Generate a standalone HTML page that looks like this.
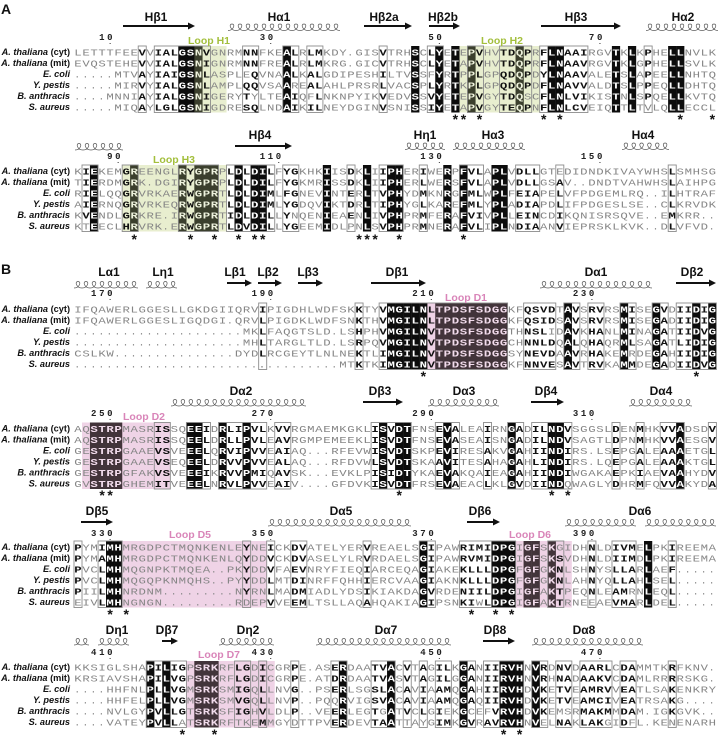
<!DOCTYPE html>
<html lang="en">
<head>
<meta charset="utf-8">
<title>Sequence alignment</title>
<style>
html,body{margin:0;padding:0;background:#fff}
svg{display:block}
.t{font:bold 12px "Liberation Sans",sans-serif;fill:#111;text-anchor:middle}
.lg{font:bold 10.5px "Liberation Sans",sans-serif;fill:#a3bf3c;text-anchor:middle}
.lp{font:bold 10.5px "Liberation Sans",sans-serif;fill:#d985b9;text-anchor:middle}
.p{font:bold 14px "Liberation Sans",sans-serif;fill:#111}
.sp{font:bold 9.2px "Liberation Sans",sans-serif;fill:#111;text-anchor:end}
.r{font-family:"Liberation Mono",monospace;font-size:9.6px}
.n{font:bold 9px "Liberation Mono",monospace;fill:#222}
.s{font:bold 14px "Liberation Sans",sans-serif;fill:#111;text-anchor:middle}
</style>
</head>
<body>
<svg id="fig" xmlns="http://www.w3.org/2000/svg" width="727" height="735" viewBox="0 0 727 735">
<rect width="727" height="735" fill="#fff"/>
<g id="blocks"></g>
<g id="deco"></g>
<text class="p" x="1" y="14">A</text>
<text class="p" x="1" y="274">B</text>

<text class="t" x="156" y="21">Hβ1</text>
<text class="t" x="279" y="21">Hα1</text>
<text class="t" x="384" y="21">Hβ2a</text>
<text class="t" x="443" y="21">Hβ2b</text>
<text class="t" x="576" y="21">Hβ3</text>
<text class="t" x="683" y="21">Hα2</text>
<text class="lg" x="209" y="44">Loop H1</text>
<text class="lg" x="502" y="44">Loop H2</text>

<text class="t" x="260" y="139">Hβ4</text>
<text class="t" x="425" y="139">Hη1</text>
<text class="t" x="493" y="139">Hα3</text>
<text class="t" x="643" y="139">Hα4</text>
<text class="lg" x="174" y="163">Loop H3</text>

<text class="t" x="109" y="276">Lα1</text>
<text class="t" x="163" y="276">Lη1</text>
<text class="t" x="235" y="276">Lβ1</text>
<text class="t" x="268" y="276">Lβ2</text>
<text class="t" x="308" y="276">Lβ3</text>
<text class="t" x="397" y="276">Dβ1</text>
<text class="t" x="596" y="276">Dα1</text>
<text class="t" x="692" y="276">Dβ2</text>
<text class="lp" x="466" y="301">Loop D1</text>

<text class="t" x="241" y="395">Dα2</text>
<text class="t" x="380" y="395">Dβ3</text>
<text class="t" x="464" y="395">Dα3</text>
<text class="t" x="546" y="395">Dβ4</text>
<text class="t" x="661" y="395">Dα4</text>
<text class="lp" x="144" y="420">Loop D2</text>

<text class="t" x="97" y="515">Dβ5</text>
<text class="t" x="341" y="515">Dα5</text>
<text class="t" x="480" y="515">Dβ6</text>
<text class="t" x="640" y="515">Dα6</text>
<text class="lp" x="190" y="538">Loop D5</text>
<text class="lp" x="530" y="538">Loop D6</text>

<text class="t" x="117" y="634">Dη1</text>
<text class="t" x="167" y="634">Dβ7</text>
<text class="t" x="248" y="634">Dη2</text>
<text class="t" x="386" y="634">Dα7</text>
<text class="t" x="495" y="634">Dβ8</text>
<text class="t" x="584" y="634">Dα8</text>
<text class="lp" x="219" y="658">Loop D7</text>
</svg>
<script>
// Species row labels
const species = [["A. thaliana"," (cyt)"],["A. thaliana"," (mit)"],["E. coli",""],["Y. pestis",""],["B. anthracis",""],["S. aureus",""]];

// Alignment rows. Lower-case letters are non-conserved residues inside a framed column.
const rowsA1 = [
"LETTTFEEVVIALGSNVGNRMNNFKEALRLMKDY.GISVTRHSCLYETEPVHVTDQPRFLNAAIRGVTKLKPHELLNVLK",
"EVQSTEHEVVIALGSNIGNRMNNFREALRLMKRG.GICVTRHSCLYETAPVHVTDQPRFLNAAVRGVTKLGPHELLSVLK",
".....MTVAYIAIGSNLASPLeQVNAALKALGDIPESHILTVSSfYRTPPLGPQDQPDYLNAAVALETSLAPEELLNHTQ",
".....MIRVYIALGSNLAMPLQQVSAArEALAHLPRSRLVACSPLYRTKPLGPQDQPDFLNAVVALDTSLPPEQLLDHTQ",
"....MNNIAYIALGSNIGERYTyLTEAIQfLNKNPYIKVEDVSSVYETEPVGYTDQsCFLNLVIKISTNLSPQELLKVTQ",
".....MIQAYLGLGSNIGDRESQLNDAIKILNEYDGINVSNISSIYETAPVGYTEQPNFLNLCVEIQTTLTvLQLLECCL"];
const rowsA2 = [
"KIEKEMGREENGLRYGPRPLDLDILFYGKHKIISDKLIIPHERIWERPFVLAPLVDLLGTeDIDNDKIVAYWHSLSMHSG",
"TIERDMGRK.DGIRYGPRPLDLDILFYGKMRISSDKLIIPHERLWERSFVLAPLVDLLGSAV..DNDTVAHWHSLAIHPG",
"RIELQQGRVRKAERWGPRTLDLDIMLFGNEVINTERLTVPHYDMKNRGFMLWPLFEIAPELVFPDGEMLRQ..ILHTRAF",
"AIERNQGRVRKEQRWGPRTLDLDIMLYGDQVIKTDRLTIPHYGLKAREFMLYPLADIAPDLIFPDGESLSE..CLKRVDK",
"KVENDLGRKRE.IRWGPRTIDLDILLYnQENIEAENLIVPHPRMFERAFVIVPLLEINCDIKQNISRSQVE..EMKRR..",
"KtEECLHRVRK.ERWGPRTLDVDILLYGEEMIDLpNLSVPHPRMNERAFVLIPLNDIAANVIEPRSKLKVK..DLVFVD."];
const rowsB1 = [
"IFQAWERLGGESLLGKDGIIQRVIPIGDHLWDFSKKTYVMGILNLTPDSFSDGGKFQSVDTAVSRVRSMISEGVDIIDIG",
"IFQAWERLGGESLIGQDGI.QRVLPIGDKLWDFSNKTHVMGILNLTPDSFSDGGKFQSIDSAVSRVRSMISEGADIIDIG",
".....................MKLFAQGTSLD.LSHPHVMGILNVTPDSFSDGGTHNSLiDAVKHANLMINAGATIIDVG",
".....................MHLTARGLTLD.LSRPQVMGILNVTPDSFSDGGCHNNLDQALQHAQRMLSAGATLIDIG",
"CSLKW...............DYDLRCGEYTLNLNEKTLIMGILNVTPDSFSDGGSYNEVDAAVRHAKEMrDEGAHIIDIG",
".................................MTKTKIMGILNVTPDSFSDGGKFNNVESAVTRVKAMMDEGADIIDVG"];
const rowsB2 = [
"AQSTRPMASRISSQEEIDRLIPVLKVVRGMAEMKGKLISVDTFNSEVALEAIRNGADILNDVSGGSLDENMHKVVADSDV",
"AQSTRPMASRISSQEELDRLLPVLEAVRGMPEMEEKLISVDTFNSEVASEAISNGADILNDVSAGTLDPNMHKVVAESGV",
"GESTRPGAAEVSVEEELQRVIPVVEAIAQ...RFEVWISVDTSKPEVIRESAKVGAHIINDIRS.LSEPGALEAAAETGL",
"GESTRPGAAEVSEQEELDRVVPVVEALAQ...RFDVWLSVDTSKAAVITESAHAGAHLINDIRS.LQEPGALEAAAKTGL",
"GESTRPGFAKVSVEEEIKRVVPMIQAVSK...EVKLPISIDTYKAEVAKQAIEAGAHIINDIWGAKAEPKIAEVAAHYDV",
"GVSTRPGHEMITVEEELNRVLPVVEAIV....GFDVKISVDTFRSEVAEACLKLGVDIINDqWAGLYDHRMFQVVAKYDA"];
const rowsB3 = [
"PYMIMHMRGDPCTMQNKENLEYNEICKDVATELYERVREAELSGIPAWRIMIDPGIGFSKgIDHNLDIVMELPKIREEMA",
"PYMAMHMRGDPCTMQNKENLQYDDVCKDVASELYLRVRDAELSGIPAWRVMIDPGIGFSKSVDHNLDIIMDLPKIREEMA",
"PVCLMHMQGNPKTMQEA..PKYDDVFAEVNRYFIEQIARCEQAGIAKEKLLLDPGFGFGKNLSHNYSLLARLAEF.....",
"PVCLMHMQGQPKNMQHS..PYYDDLMTDINRFFQHHIERCVAAGIAKNKLLLDPGFGFGKNLAHNYQLLAHLSEL.....",
"PIILMHNRDNM.........NYRNLMADMIADLYDSIKIAKDAGVRDENIILDPGIGFAKTPEQNLEAMrNLEQL.....",
"eIVLMHNGNGN.........RdEPVVEEMLTSLLAQAHQAKIAGIPSNKIwLDPGIGFAKTRNEeAEVMARLDEL....."];
const rowsB4 = [
"KKSIGLSHAPILIGPSRKRFLGDICGRPE.ASERDAATVACVTAGILKGANIIRVHNVRDNVDAARLCDAMMTKRFKNV.",
"KRSIAVSHAPILVGPSRKRFLGDICGRPE.ATDRDAATVASVTAGILGGANIIRVHNVRHNADAAKVCDAMLRRRRSKG.",
"....HHFNLPLLVGMSRKSMIGQLLNVG..PSERLSGSLACAVIAAMQGAHIIRVHDVKETVEAMRVVEATLSAKENKRY",
"....HHFELPLLVGMSRKSMVGQLLNVP..PQqRVIGSVACAVIAAMQGAQIIRVHDVKETVEAMCIVEATRSAKG....",
"....NVLGYPVLLGTSRKSFIGHVLDLP..VEERLEGTgATVCLGIeKGcEfVRVHDVKEmsRMAKMMDAM.IGKGVK..",
"....VATEYPVLLaTSRKRFtkEMMGYdTTPVERDEVTAATtAyGIMKGVRAVRVHNVeLNAKLAKgIDfL.KEnENARH"];

// Residue numbers (printed values) and the alignment column they mark
const ticksA1 = [[5,"10"],[25,"30"],[46,"50"],[66,"70"]];
const ticksA2 = [[6,"90"],[26,"110"],[46,"130"],[66,"150"]];
const ticksB1 = [[5,"170"],[25,"190"],[45,"210"],[65,"230"]];
const ticksB2 = [[5,"250"],[25,"270"],[45,"290"],[65,"310"]];
const ticksB3 = [[5,"330"],[25,"350"],[45,"370"],[65,"390"]];
const ticksB4 = [[5,"410"],[25,"430"],[46,"450"],[66,"470"]];

// Columns with identical residues (solid)
const solidA1 = [14,15,16,27,43,46,48,50,56,60,61,68,70,75,76];
const solidA2 = [3,8,14,16,17,18,21,23,24,32,37,40,41,47,49,53,54];
const solidB1 = [40,41,42,43,44,46,47,48,49,50,51,52,53,54,62,69,73,78,80];
const solidB2 = [3,4,5,6,15,16,19,22,39,41,42,47,55,60,61,76];
const solidB3 = [5,6,44,53,54,55,57,58,60,72];
const solidB4 = [10,12,16,17,18,34,40,49,54,55,56,58];

// Framed column ranges (similar residues)
const framesA1 = [[9,9],[11,17],[22,23],[27,28],[30,31],[39,39],[45,46],[50,51],[54,57],[59,64],[72,72]];
const framesA2 = [[2,3],[7,8],[14,18],[20,25],[27,28],[35,35],[39,41],[44,44],[49,51],[56,58],[61,61],[75,75]];
const framesB1 = [[24,24],[36,36],[39,54],[57,60],[62,63],[65,66],[69,70],[73,74],[76,80]];
const framesB2 = [[11,12],[15,17],[19,24],[26,27],[38,42],[46,48],[52,52],[55,56],[58,62],[68,68],[71,71],[74,76],[80,80]];
const framesB3 = [[1,1],[4,6],[22,22],[25,25],[28,29],[37,37],[44,45],[49,55],[60,61],[65,65],[68,70],[75,75]];
const framesB4 = [[10,14],[21,22],[24,24],[28,28],[33,34],[38,40],[42,42],[44,44],[46,47],[49,50],[52,56],[58,59],[61,62],[64,67],[69,70],[75,75]];

// Shaded functional loops (column ranges)
const loopsA1 = [[16,19],[49,58]];
const loopsA2 = [[7,19]];
const loopsB1 = [[45,54]];
const loopsB2 = [[2,12]];
const loopsB3 = [[7,24],[56,62]];
const loopsB4 = [[15,25]];

// Starred columns
const starsA1 = [48,49,51,59,61,76,80];
const starsA2 = [8,15,18,21,23,24,36,37,38,41,49];
const starsB1 = [44,78];
const starsB2 = [4,5,41,60,62];
const starsB3 = [5,7,50,53,55];
const starsB4 = [14,18,54,56];

const NS = "http://www.w3.org/2000/svg";
const PITCH = 8.03, X0 = 78, ROW = 11;
function colX(c){ return X0 + PITCH * (c - 1); }
function make(tag, attrs, parent){
  const el = document.createElementNS(NS, tag);
  for (const k in attrs) el.setAttribute(k, attrs[k]);
  parent.appendChild(el);
  return el;
}
const blocksRoot = document.getElementById("blocks");
const deco = document.getElementById("deco");

function drawBlock(id, rows, top, numY, starY, solid, frames, loops, ticks, stars, loopFill, darkFill, thinFill, darkText){
  const g = make("g", {}, blocksRoot);
  
  
  const yT = top - 6, h = ROW * 5 + 11.5;
  const inLoop = c => loops.some(l => c >= l[0] && c <= l[1]);

  loops.forEach(l => {
    const r = make("rect", {x: colX(l[0]) - PITCH/2, y: yT, width: (l[1]-l[0]+1)*PITCH, height: h, fill: loopFill}, g);
    
    
  });
  solid.forEach(c => {
    const r = make("rect", {x: colX(c) - PITCH/2 - 0.1, y: yT, width: PITCH + 0.2, height: h, fill: inLoop(c) ? darkFill : "#0c0c0c"}, g);
    
    
  });
  frames.forEach(f => {
    const r = make("rect", {x: colX(f[0]) - PITCH/2, y: yT, width: (f[1]-f[0]+1)*PITCH, height: h, fill: "none", stroke: "#8c8c8c", "stroke-width": 0.9}, g);
    
    
  });

  const inFrame = c => frames.some(f => c >= f[0] && c <= f[1]);
  rows.forEach((seq, ri) => {
    const y = top + ROW * ri;
    const lab = make("text", {class: "sp", x: 70, y: y + 3.2}, g);
    
    
    const it = make("tspan", {"font-style": "italic"}, lab);
    it.textContent = species[ri][0];
    if (species[ri][1]) { const tp = make("tspan", {}, lab); tp.textContent = species[ri][1]; }
    for (let i = 0; i < seq.length; i++) {
      const c = i + 1, raw = seq[i];
      const up = raw.toUpperCase();
      const isSolid = solid.includes(c);
      const strong = !isSolid && inFrame(c) && raw === up && raw !== ".";
      const dot = raw === ".";
      let fill = thinFill;
      if (isSolid) fill = inLoop(c) ? darkText : "#fff";
      else if (strong) fill = "#111";
      const t = make("text", {
        class: "r", x: (colX(c) - 3.7).toFixed(2), y: y + 3.3,
        textLength: dot ? 6 : 7.4, lengthAdjust: "spacingAndGlyphs",
        fill: fill, "font-weight": (isSolid || strong || (dot && inFrame(c))) ? "bold" : "normal"
      }, g);
      
      
      t.textContent = up;
    }
  });

  ticks.forEach(tk => {
    const digits = tk[1].split("");
    digits.forEach((d, k) => {
      const c = tk[0] - (digits.length - 1 - k);
      const t = make("text", {class: "n", x: (colX(c) - 3).toFixed(2), y: numY + 3}, g);
      
      
      t.textContent = d;
    });
    const dotMark = make("rect", {x: colX(tk[0]) - 0.5, y: numY + 6, width: 1, height: 1, fill: "#333"}, g);
    
    
  });

  stars.forEach(c => {
    const t = make("text", {class: "s", x: colX(c), y: starY + 7}, g);
    
    
    t.textContent = "*";
  });
}

const GL = "#e8eecf", GD = "#3b3f2d", PL = "#efd3e6", PD = "#42343a";
drawBlock("a1", rowsA1, 52, 37, 117, solidA1, framesA1, loopsA1, ticksA1, starsA1, GL, GD, "#858585", "#eef2dd");
drawBlock("a2", rowsA2, 171, 156, 237, solidA2, framesA2, loopsA2, ticksA2, starsA2, GL, GD, "#858585", "#eef2dd");
drawBlock("b1", rowsB1, 309, 293, 374, solidB1, framesB1, loopsB1, ticksB1, starsB1, PL, PD, "#858585", "#f2dcec");
drawBlock("b2", rowsB2, 428.5, 413, 493, solidB2, framesB2, loopsB2, ticksB2, starsB2, PL, PD, "#858585", "#f2dcec");
drawBlock("b3", rowsB3, 547, 533, 612, solidB3, framesB3, loopsB3, ticksB3, starsB3, PL, PD, "#858585", "#f2dcec");
drawBlock("b4", rowsB4, 667, 652, 732, solidB4, framesB4, loopsB4, ticksB4, starsB4, PL, PD, "#858585", "#f2dcec");

function helix(x1, x2, y, name){
  const n = Math.max(1, Math.round((x2 - x1) / 8)), p = (x2 - x1) / n;
  let d = "M" + x1 + " " + y;
  for (let i = 0; i < n; i++) {
    const x = x1 + i * p;
    d += " C" + (x + p*0.7) + " " + y + "," + (x + p*0.95) + " " + (y - 6.5) + "," + (x + p*0.5) + " " + (y - 6.5);
    d += " C" + (x + p*0.05) + " " + (y - 6.5) + "," + (x + p*0.3) + " " + y + "," + (x + p) + " " + y;
  }
  const el = make("path", {d: d, fill: "none", stroke: "#555", "stroke-width": 0.7}, deco);
  
  
}
function arrow(x1, x2, y, name){
  const g = make("g", {}, deco);
  
  
  make("rect", {x: x1, y: y - 1, width: x2 - x1 - 5, height: 2, fill: "#111"}, g);
  make("path", {d: "M" + (x2 - 7) + " " + (y - 3.5) + " L" + x2 + " " + y + " L" + (x2 - 7) + " " + (y + 3.5) + " Z", fill: "#111"}, g);
}

arrow(123,195,26,"arrow-hb1"); helix(228,340,30.5,"helix-ha1");
arrow(364,412,26,"arrow-hb2a"); arrow(429,460,26,"arrow-hb2b");
arrow(541,621,26,"arrow-hb3"); helix(646,718,30.5,"helix-ha2");

helix(75,123,150,"helix-ha2-continued"); arrow(235,292,146,"arrow-hb4");
helix(405,445,149.5,"helix-hn1"); helix(453,525,149.5,"helix-ha3"); helix(622,669,149.5,"helix-ha4");

helix(74,138,288,"helix-la1"); helix(146,177,288,"helix-ln1");
arrow(227,252,283,"arrow-lb1"); arrow(258,282,283,"arrow-lb2"); arrow(298,323,283,"arrow-lb3");
arrow(371,426,283,"arrow-db1"); helix(540,652,288,"helix-da1"); arrow(676,716,283,"arrow-db2");

helix(171,306,406,"helix-da2"); arrow(363,403,402,"arrow-db3");
helix(428,499,406,"helix-da3"); arrow(531,564,402,"arrow-db4"); helix(629,692,406,"helix-da4");

arrow(81,113,522,"arrow-db5"); helix(268,411,526,"helix-da5");
arrow(467,500,522,"arrow-db6"); helix(565,636,526,"helix-da6a"); helix(645,716,526,"helix-da6b");

helix(74,89,645,"helix-dn1a"); helix(98,129,645,"helix-dn1b"); arrow(162,178,641,"arrow-db7");
helix(219,274,645,"helix-dn2"); helix(316,451,645,"helix-da7");
arrow(483,515,641,"arrow-db8"); helix(532,643,645,"helix-da8");
</script>
</body>
</html>
